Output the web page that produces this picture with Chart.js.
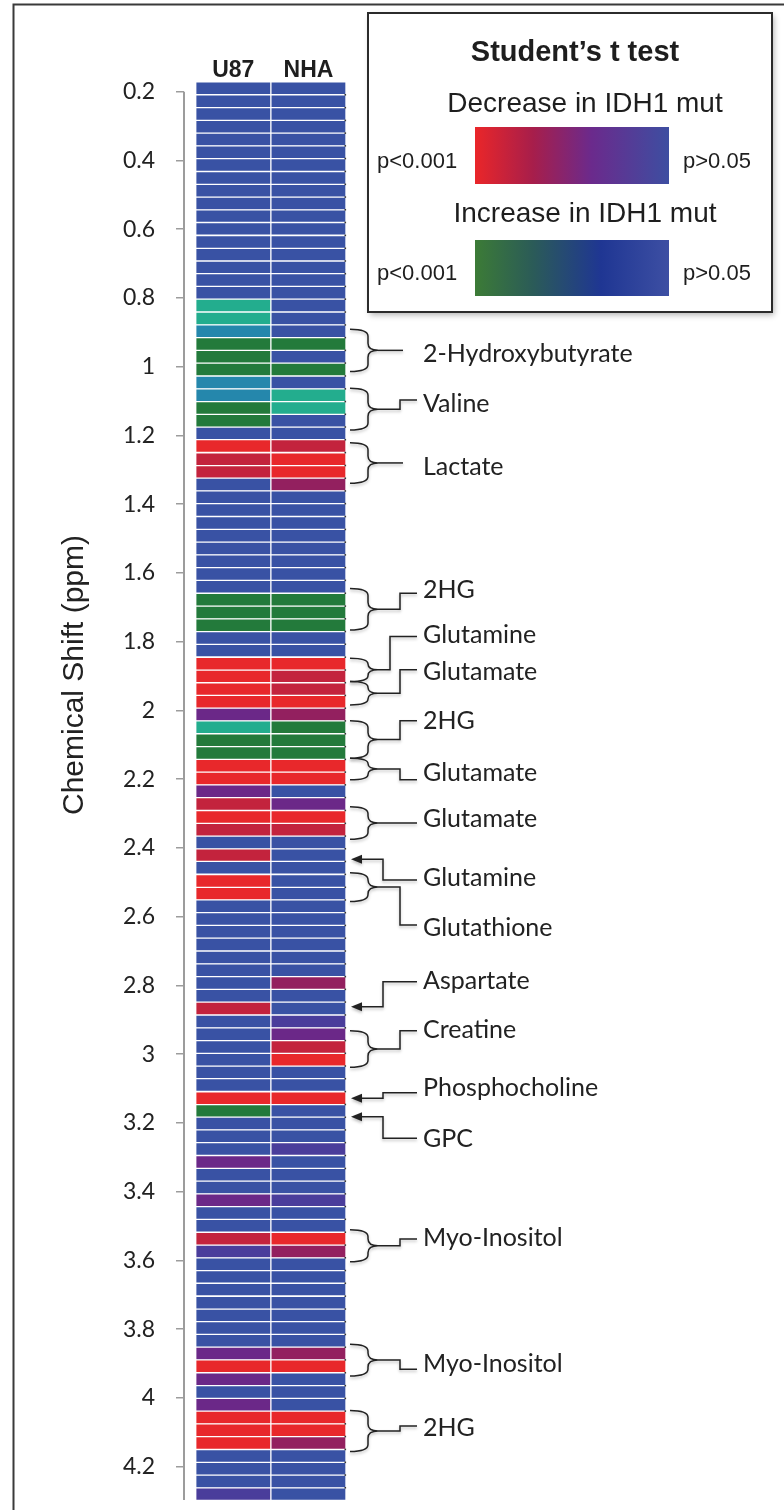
<!DOCTYPE html>
<html>
<head>
<meta charset="utf-8">
<script src="https://cdn.jsdelivr.net/npm/chart.js@4.4.1/dist/chart.umd.min.js"></script>
<style>
  html, body { margin: 0; padding: 0; background: #fff; }
  #wrap { position: relative; width: 784px; height: 1510px; }
</style>
</head>
<body>
<div id="wrap"><canvas id="chart"></canvas></div>
<script>
// Row centres, chemical shift (ppm), top to bottom
const shifts = [
  0.190, 0.228, 0.265, 0.302, 0.339, 0.376, 0.413, 0.451, 0.488, 0.525,
  0.562, 0.599, 0.637, 0.674, 0.711, 0.748, 0.785, 0.822, 0.860, 0.897,
  0.934, 0.971, 1.008, 1.046, 1.083, 1.120, 1.157, 1.194, 1.231, 1.269,
  1.306, 1.343, 1.380, 1.417, 1.455, 1.492, 1.529, 1.566, 1.603, 1.640,
  1.678, 1.715, 1.752, 1.789, 1.826, 1.864, 1.901, 1.938, 1.975, 2.012,
  2.049, 2.087, 2.124, 2.161, 2.198, 2.235, 2.272, 2.310, 2.347, 2.384,
  2.421, 2.458, 2.496, 2.533, 2.570, 2.607, 2.644, 2.681, 2.719, 2.756,
  2.793, 2.830, 2.867, 2.905, 2.942, 2.979, 3.016, 3.053, 3.090, 3.128,
  3.165, 3.202, 3.239, 3.276, 3.314, 3.351, 3.388, 3.425, 3.462, 3.499,
  3.537, 3.574, 3.611, 3.648, 3.685, 3.723, 3.760, 3.797, 3.834, 3.871,
  3.908, 3.946, 3.983, 4.020, 4.057, 4.094, 4.131, 4.169, 4.206, 4.243,
  4.280
];

// Significance per row: negative = decrease in IDH1 mut (-5 = p<0.001),
// positive = increase in IDH1 mut (3 = p<0.001), 0 = p>0.05
const u87 = [
   0,  0,  0,  0,  0,  0,  0,  0,  0,  0,
   0,  0,  0,  0,  0,  0,  0,  2,  2,  1,
   3,  3,  3,  1,  1,  3,  3,  0, -5, -4,
  -4,  0,  0,  0,  0,  0,  0,  0,  0,  0,
   3,  3,  3,  0,  0, -5, -5, -5, -5, -2,
   2,  3,  3, -5, -5, -2, -4, -5, -4,  0,
  -4,  0, -5, -5,  0,  0,  0,  0,  0,  0,
   0,  0, -4,  0,  0,  0,  0,  0,  0, -5,
   3,  0,  0,  0, -2,  0,  0, -2,  0,  0,
  -4, -1,  0,  0,  0,  0,  0,  0,  0, -2,
  -5, -2,  0, -2, -5, -5, -5,  0,  0,  0,
  -1
];
const nha = [
   0,  0,  0,  0,  0,  0,  0,  0,  0,  0,
   0,  0,  0,  0,  0,  0,  0,  0,  0,  0,
   3,  0,  3,  0,  2,  2,  0,  0, -4, -5,
  -5, -3,  0,  0,  0,  0,  0,  0,  0,  0,
   3,  3,  3,  0,  0, -5, -4, -4, -5, -3,
   3,  3,  3, -5, -5,  0, -2, -5, -4,  0,
   0,  0,  0,  0,  0,  0,  0,  0,  0,  0,
  -3,  0,  0, -1, -2, -4, -5,  0,  0, -5,
   0,  0,  0, -1,  0,  0,  0, -1,  0,  0,
  -5, -3,  0,  0,  0,  0,  0,  0,  0, -3,
  -5,  0,  0,  0, -5, -5, -3,  0,  0,  0,
   0
];

const cellLines = ["U87", "NHA"];
const tickValues = [0.2, 0.4, 0.6, 0.8, 1, 1.2, 1.4, 1.6, 1.8, 2, 2.2, 2.4, 2.6, 2.8, 3, 3.2, 3.4, 3.6, 3.8, 4, 4.2];
const tickLabels = ["0.2", "0.4", "0.6", "0.8", "1", "1.2", "1.4", "1.6", "1.8", "2", "2.2", "2.4", "2.6", "2.8", "3", "3.2", "3.4", "3.6", "3.8", "4", "4.2"];

// Metabolite assignments (ppm): bracket from/to or arrow at, leader end and label centre
const metabolites = [
  { name: "2-Hydroxybutyrate", from: 0.891, to: 1.014, leader: 0.9525, text: 0.960 },
  { name: "Valine", from: 1.063, to: 1.184, leader: 1.097, text: 1.106 },
  { name: "Lactate", from: 1.221, to: 1.339, leader: 1.280, text: 1.288 },
  { name: "2HG", from: 1.645, to: 1.766, leader: 1.659, text: 1.648 },
  { name: "Glutamine", from: 1.848, to: 1.916, leader: 1.785, text: 1.778 },
  { name: "Glutamate", from: 1.916, to: 1.984, leader: 1.882, text: 1.886 },
  { name: "2HG", from: 2.030, to: 2.139, leader: 2.030, text: 2.028 },
  { name: "Glutamate", from: 2.139, to: 2.202, leader: 2.202, text: 2.178 },
  { name: "Glutamate", from: 2.280, to: 2.375, leader: 2.3275, text: 2.313 },
  { name: "Glutamine", at: 2.433, leader: 2.493, text: 2.485 },
  { name: "Glutathione", from: 2.472, to: 2.556, leader: 2.624, text: 2.629 },
  { name: "Aspartate", at: 2.862, leader: 2.789, text: 2.784 },
  { name: "Creatine", from: 2.932, to: 3.038, leader: 2.932, text: 2.927 },
  { name: "Phosphocholine", at: 3.128, leader: 3.112, text: 3.096 },
  { name: "GPC", at: 3.182, leader: 3.245, text: 3.244 },
  { name: "Myo-Inositol", from: 3.511, to: 3.604, leader: 3.538, text: 3.531 },
  { name: "Myo-Inositol", from: 3.844, to: 3.936, leader: 3.917, text: 3.899 },
  { name: "2HG", from: 4.037, to: 4.156, leader: 4.082, text: 4.084 }
];

const levelColors = {
  "-5": "#e8282b", "-4": "#c3233d", "-3": "#93205f", "-2": "#6b2888", "-1": "#4a3d9b",
  "0": "#3952a4", "1": "#2587ac", "2": "#23ad8e", "3": "#237a3b"
};
const shortLeaders = ["2-Hydroxybutyrate", "Lactate"];

function brace(ctx, top, bot, mid) {
  const x0 = 350, xs = 368, xp = 378;
  const r = Math.min(7, (bot - top) / 4);
  ctx.beginPath();
  ctx.moveTo(x0, top);
  ctx.quadraticCurveTo(xs, top, xs, top + r);
  ctx.lineTo(xs, mid - r);
  ctx.quadraticCurveTo(xs, mid, xp, mid);
  ctx.moveTo(xp, mid);
  ctx.quadraticCurveTo(xs, mid, xs, mid + r);
  ctx.lineTo(xs, bot - r);
  ctx.quadraticCurveTo(xs, bot, x0, bot);
  ctx.stroke();
}

function drawAnnotations(ctx, y) {
  ctx.save();
  ctx.strokeStyle = "#222";
  ctx.fillStyle = "#222";
  ctx.lineWidth = 1.5;
  ctx.shadowColor = "rgba(0,0,0,0.25)";
  ctx.shadowBlur = 3;
  ctx.shadowOffsetY = 2;
  metabolites.forEach((m) => {
    const ly = y.getPixelForValue(m.leader);
    ctx.beginPath();
    if (m.at !== undefined) {
      const ay = y.getPixelForValue(m.at);
      ctx.moveTo(351, ay);
      ctx.lineTo(362, ay - 4.5);
      ctx.lineTo(362, ay + 4.5);
      ctx.closePath();
      ctx.fill();
      ctx.beginPath();
      ctx.moveTo(362, ay);
      ctx.lineTo(383, ay);
      ctx.lineTo(383, ly);
      ctx.lineTo(417, ly);
      ctx.stroke();
    } else {
      const top = y.getPixelForValue(m.from);
      const bot = y.getPixelForValue(m.to);
      const mid = (top + bot) / 2;
      brace(ctx, top, bot, mid);
      ctx.beginPath();
      if (Math.abs(ly - mid) < 1) {
        ctx.moveTo(378, mid);
        ctx.lineTo(shortLeaders.includes(m.name) ? 403 : 417, mid);
      } else {
        const ex = m.name === "Glutamine" ? 390 : 400;
        ctx.moveTo(378, mid);
        ctx.lineTo(ex, mid);
        ctx.lineTo(ex, ly);
        ctx.lineTo(417, ly);
      }
      ctx.stroke();
    }
  });
  ctx.shadowColor = "transparent";
  ctx.font = "25px Lato";
  ctx.textAlign = "left";
  ctx.textBaseline = "alphabetic";
  metabolites.forEach((m) => {
    ctx.fillText(m.name, 423, y.getPixelForValue(m.text) + 9);
  });
  ctx.restore();
}

function drawLegend(ctx) {
  const bx = 368, by = 13, bw = 404, bh = 299;
  ctx.save();
  ctx.shadowColor = "rgba(0,0,0,0.3)";
  ctx.shadowBlur = 6;
  ctx.shadowOffsetX = 2;
  ctx.shadowOffsetY = 3;
  ctx.fillStyle = "#fff";
  ctx.fillRect(bx, by, bw, bh);
  ctx.restore();
  ctx.save();
  ctx.strokeStyle = "#2b2b2b";
  ctx.lineWidth = 2;
  ctx.strokeRect(bx, by, bw, bh);

  ctx.fillStyle = "#1e1e1e";
  ctx.textAlign = "center";
  ctx.font = "bold 29px 'Liberation Sans', Arial";
  ctx.fillText("Student\u2019s t test", 575, 61);
  ctx.font = "28px 'Liberation Sans', Arial";
  ctx.fillText("Decrease in IDH1 mut", 585, 112);
  ctx.fillText("Increase in IDH1 mut", 585, 222);

  const g1 = ctx.createLinearGradient(475, 0, 669, 0);
  g1.addColorStop(0, "#ea2629");
  g1.addColorStop(0.3, "#a71e4b");
  g1.addColorStop(0.6, "#6b2a8c");
  g1.addColorStop(1, "#3d4ea1");
  ctx.fillStyle = g1;
  ctx.fillRect(475, 127, 194, 57);

  const g2 = ctx.createLinearGradient(475, 0, 669, 0);
  g2.addColorStop(0, "#3c7b36");
  g2.addColorStop(0.3, "#2b5b58");
  g2.addColorStop(0.65, "#1f3693");
  g2.addColorStop(1, "#3d4fa3");
  ctx.fillStyle = g2;
  ctx.fillRect(475, 240, 194, 56);

  ctx.fillStyle = "#1e1e1e";
  ctx.font = "22px 'Liberation Sans', Arial";
  ctx.textAlign = "left";
  ctx.fillText("p<0.001", 377, 168);
  ctx.fillText("p>0.05", 683, 168);
  ctx.fillText("p<0.001", 377, 280);
  ctx.fillText("p>0.05", 683, 280);
  ctx.restore();
}

const decor = {
  id: "decor",
  afterDraw(chart) {
    const { ctx, chartArea, scales: { x, y } } = chart;
    ctx.save();

    // axis line from the first tick down
    ctx.strokeStyle = "#9c9c9c";
    ctx.lineWidth = 2;
    ctx.beginPath();
    ctx.moveTo(chartArea.left, y.getPixelForValue(tickValues[0]));
    ctx.lineTo(chartArea.left, chartArea.bottom - 1);
    ctx.stroke();

    // dotted right edge at the row gaps
    ctx.fillStyle = "#333";
    for (let i = 1; i < shifts.length; i++) {
      const gy = y.getPixelForValue((shifts[i - 1] + shifts[i]) / 2);
      ctx.fillRect(chartArea.right - 1.5, gy - 0.8, 1.6, 1.6);
    }

    // column headers
    ctx.fillStyle = "#1e1e1e";
    ctx.font = "bold 23px 'Liberation Sans', Arial";
    ctx.textAlign = "center";
    cellLines.forEach((name, i) => {
      ctx.fillText(name, x.getPixelForValue(i + 0.5), 77);
    });

    // axis title
    ctx.save();
    ctx.translate(75, 675);
    ctx.rotate(-Math.PI / 2);
    ctx.font = "30px 'Liberation Sans', Arial";
    ctx.textAlign = "center";
    ctx.textBaseline = "middle";
    ctx.fillStyle = "#222";
    ctx.fillText("Chemical Shift (ppm)", 0, 0);
    ctx.restore();

    drawLegend(ctx);
    drawAnnotations(ctx, y);

    // outer frame
    ctx.strokeStyle = "#3a3a3a";
    ctx.lineWidth = 2;
    ctx.beginPath();
    ctx.moveTo(13.5, 1510);
    ctx.lineTo(13.5, 4.5);
    ctx.lineTo(784, 4.5);
    ctx.stroke();
    ctx.restore();
  }
};

const ctx = document.getElementById("chart").getContext("2d");
new Chart(ctx, {
  type: "bar",
  data: {
    datasets: [u87, nha].map((levels, col) => ({
      label: cellLines[col],
      data: shifts.map((s) => ({ y: s, x: [col, col + 1] })),
      backgroundColor: levels.map((v) => levelColors[v]),
      borderColor: "#fff",
      borderWidth: 1,
      borderSkipped: false,
      barThickness: 12.8,
      grouped: false
    }))
  },
  options: {
    indexAxis: "y",
    responsive: true,
    maintainAspectRatio: false,
    animation: false,
    layout: { padding: { top: 81.4, bottom: 9, left: 0, right: 438 } },
    scales: {
      x: { type: "linear", min: -0.156, max: 2, display: false },
      y: {
        type: "linear",
        reverse: true,
        offset: false,
        min: 0.17,
        max: 4.30,
        afterBuildTicks: (scale) => {
          scale.ticks = tickValues.map((v) => ({ value: v }));
        },
        afterFit: (scale) => {
          scale.width = 184;
          scale.paddingTop = 0;
          scale.paddingBottom = 0;
        },
        grid: { offset: false, drawOnChartArea: false, drawTicks: true, tickLength: 8, color: "#9c9c9c", lineWidth: 1.5 },
        border: { display: false },
        ticks: {
          autoSkip: false,
          padding: 21,
          color: "#222",
          font: { family: "Lato", size: 23 },
          callback: (value, index) => tickLabels[index]
        }
      }
    },
    plugins: {
      legend: { display: false },
      tooltip: { enabled: false }
    }
  },
  plugins: [decor]
});
</script>
</body>
</html>
